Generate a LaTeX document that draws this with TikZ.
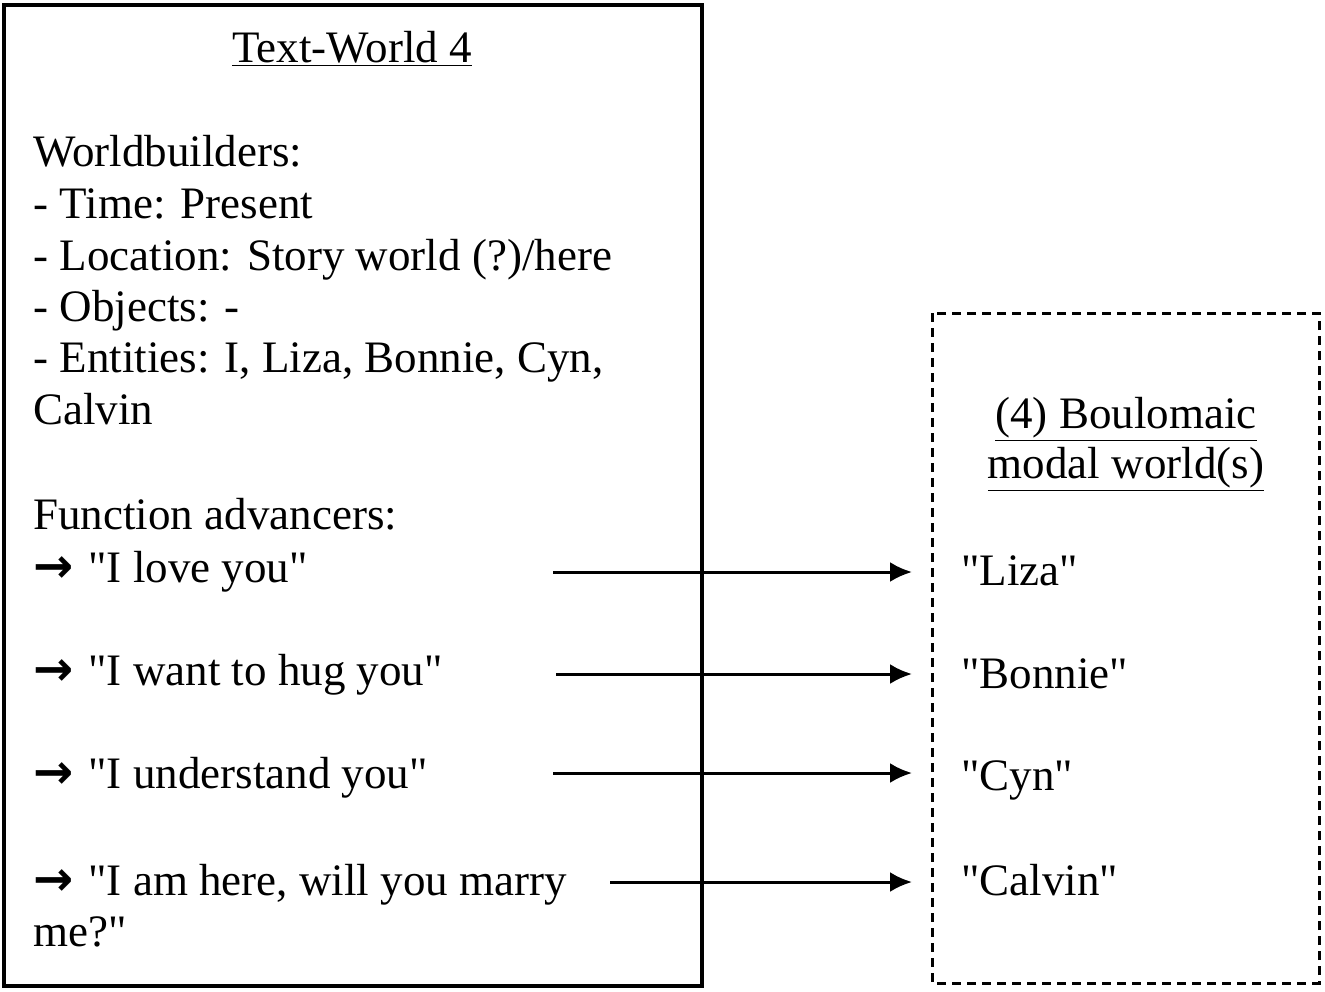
\documentclass[tikz,border=0pt]{standalone}
\usepackage{fontspec}
\setmainfont{Liberation Serif}[Ligatures=TeXOff]
\newfontfamily\arrowfont{DejaVu Sans}
\usetikzlibrary{arrows.meta}

\newcommand\fwd{{\arrowfont\bfseries\fontsize{24}{27}\selectfont →}\hspace{7.5pt}}

\tikzset{
  txt/.style={anchor=base west, inner sep=0pt, font=\fontsize{22.5}{27}\selectfont},
  flow/.style={-{Latex[length=11pt,width=10pt]}, line width=1.5pt, shorten >=24.5pt},
}

\begin{document}
\begin{tikzpicture}[x=0.5pt,y=-0.5pt]
        \useasboundingbox (0,0) rectangle (1325,991);
        % the text-world box and the modal world box
        \draw[line width=1.6pt] (4,5) rectangle (702,986);
        \draw[line width=1.5pt, dash pattern=on 4.5pt off 3pt] (932,313) rectangle (1319,983);

        % text-world
        \node[txt, anchor=base] (title) at (352,62) {\underline{Text-World 4}};
        \node[txt] (wb) at (33,166) {Worldbuilders:};
        \node[txt] (time) at (33,218) {- Time: Present};
        \node[txt] (loc) at (33,270) {- Location: Story world (?)/here};
        \node[txt] (obj) at (33,321) {- Objects: -};
        \node[txt] (ent) at (33,372) {- Entities: I, Liza, Bonnie, Cyn,};
        \node[txt] (ent2) at (33,424) {Calvin};
        \node[txt] (fa) at (33,529) {Function advancers:};
        \node[txt] (love) at (33,582) {\fwd"I love you"};
        \node[txt] (hug) at (33,685) {\fwd"I want to hug you"};
        \node[txt] (und) at (33,788) {\fwd"I understand you"};
        \node[txt] (marry) at (33,895) {\fwd"I am here, will you marry};
        \node[txt] (marry2) at (33,946) {me?"};

        % modal world
        \node[txt, anchor=base] (bw) at (1126,428) {\underline{(4) Boulomaic}};
        \node[txt, anchor=base] (bw2) at (1126,478) {\underline{modal world(s)}};
        \node[txt] (liza) at (961,585) {"Liza"};
        \node[txt] (bonnie) at (961,688) {"Bonnie"};
        \node[txt] (cyn) at (961,790) {"Cyn"};
        \node[txt] (calvin) at (961,895) {"Calvin"};

        % function advancers to the modal world
        \coordinate (a1) at (553,572);
        \coordinate (a2) at (556,674);
        \coordinate (a3) at (553,773);
        \coordinate (a4) at (610,882);
        \draw[flow] (a1) -- (a1 -| liza.west);
        \draw[flow] (a2) -- (a2 -| bonnie.west);
        \draw[flow] (a3) -- (a3 -| cyn.west);
        \draw[flow] (a4) -- (a4 -| calvin.west);

\end{tikzpicture}
\end{document}
